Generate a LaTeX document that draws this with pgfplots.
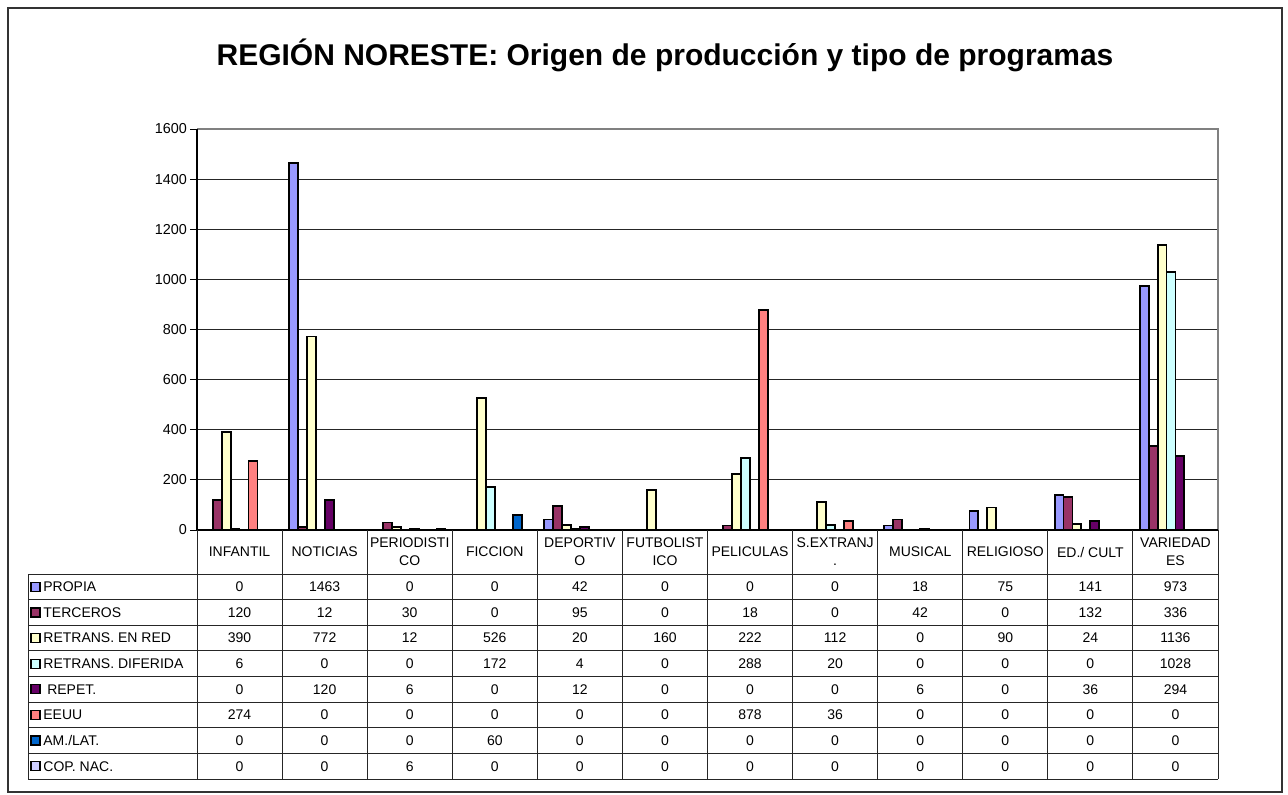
\documentclass[border=0pt]{standalone}
\usepackage{pgfplots}
\usepackage{pgfplotstable}
\pgfplotsset{compat=1.18}
\usepackage{fontspec}
\setmainfont{Liberation Sans}

\definecolor{cPropia}{HTML}{9999FF}
\definecolor{cTerceros}{HTML}{993366}
\definecolor{cRed}{HTML}{FFFFCC}
\definecolor{cDif}{HTML}{CCFFFF}
\definecolor{cRepet}{HTML}{660066}
\definecolor{cEEUU}{HTML}{FF8080}
\definecolor{cAmlat}{HTML}{0066CC}
\definecolor{cCopnac}{HTML}{CCCCFF}

% rows = program types, columns = origin of production
\pgfplotstableread{
idx PROPIA TERCEROS RED DIF REPET EEUU AMLAT COPNAC
0   0    120  390  6    0   274 0  0
1   1463 12   772  0    120 0   0  0
2   0    30   12   0    6   0   0  6
3   0    0    526  172  0   0   60 0
4   42   95   20   4    12  0   0  0
5   0    0    160  0    0   0   0  0
6   0    18   222  288  0   878 0  0
7   0    0    112  20   0   36  0  0
8   18   42   0    0    6   0   0  0
9   75   0    90   0    0   0   0  0
10  141  132  24   0    36  0   0  0
11  973  336  1136 1028 294 0   0  0
}\datatable

\begin{document}
\begin{tikzpicture}
\path[use as bounding box] (0,0) rectangle (644pt,-397pt);

\begin{axis}[
    at={(98.5pt,-265pt)}, anchor=south west,
    scale only axis,
    width=510.5pt, height=200.5pt,
    xmin=-0.5, xmax=11.5,
    ymin=0, ymax=1600,
    ybar,
    bar width=0.10526,
    xtick=\empty,
    ytick={0,200,...,1600},
    ytick pos=left,
    tick align=outside,
    major tick length=3.5pt,
    ytick style={black, line width=0.5pt},
    yticklabel style={font=\fontsize{7.2}{8}\selectfont, xshift=2pt},
    /pgf/number format/assume math mode=true,
    /pgf/number format/1000 sep={},
    ymajorgrids,
    grid style={black!85, line width=0.5pt},
    axis line style={draw=none},
    every axis plot/.append style={draw=black, line width=0.95pt},
    restrict y to domain=0.5:5000,
    clip=false,
]
\addplot[fill=cPropia,   bar shift=-0.36842] table[x=idx, y=PROPIA]   {\datatable};
\addplot[fill=cTerceros, bar shift=-0.26316] table[x=idx, y=TERCEROS] {\datatable};
\addplot[fill=cRed,      bar shift=-0.15789] table[x=idx, y=RED]      {\datatable};
\addplot[fill=cDif,      bar shift=-0.05263] table[x=idx, y=DIF]      {\datatable};
\addplot[fill=cRepet,    bar shift=0.05263]  table[x=idx, y=REPET]    {\datatable};
\addplot[fill=cEEUU,     bar shift=0.15789]  table[x=idx, y=EEUU]     {\datatable};
\addplot[fill=cAmlat,    bar shift=0.26316]  table[x=idx, y=AMLAT]    {\datatable};
\addplot[fill=cCopnac,   bar shift=0.36842]  table[x=idx, y=COPNAC]   {\datatable};

\draw[black!50, line width=1pt] (rel axis cs:0,1) -- (rel axis cs:1,1) -- (rel axis cs:1,0);
\draw[black, line width=0.6pt] (rel axis cs:0,1) -- (rel axis cs:0,0) -- (rel axis cs:1,0);
\end{axis}

% frame, title and data table (pixel units, y downwards)
\begin{scope}[x=0.5pt, y=-0.5pt, font=\fontsize{7}{9}\selectfont]
\draw[black!80, line width=0.6pt] (8,8) rectangle (1282,792);
\node[font=\bfseries\fontsize{15}{18}\selectfont] at (665,55)
    {REGIÓN NORESTE: Origen de producción y tipo de programas};

\foreach \i in {0,...,12}
    \draw[black!85, line width=0.5pt] ({197+85.083*\i},530) -- ({197+85.083*\i},779);
\foreach \j in {0,...,8}
    \draw[black!85, line width=0.5pt] (28,{574+25.625*\j}) -- (1218,{574+25.625*\j});
\draw[black!85, line width=0.5pt] (28,574) -- (28,779);

\foreach \t [count=\c from 0] in {INFANTIL, NOTICIAS, {PERIODISTI\\CO}, FICCION,
        {DEPORTIV\\O}, {FUTBOLIST\\ICO}, PELICULAS, {S.EXTRANJ\\.}, MUSICAL,
        RELIGIOSO, {ED./ CULT}, {VARIEDAD\\ES}}
    \node[align=center, inner sep=0pt] at ({197+85.083*(\c+0.5)},552) {\t};

\foreach \col/\clr/\lab [count=\r from 0] in {PROPIA/cPropia/PROPIA,
        TERCEROS/cTerceros/TERCEROS, RED/cRed/RETRANS. EN RED,
        DIF/cDif/RETRANS. DIFERIDA, REPET/cRepet/\ REPET., EEUU/cEEUU/EEUU,
        AMLAT/cAmlat/{AM./LAT.}, COPNAC/cCopnac/COP. NAC.} {
    \pgfmathsetmacro{\yc}{574+25.625*(\r+0.5)}
    \draw[fill=\clr, draw=black, line width=0.6pt] (31,\yc-4.5) rectangle (40,\yc+4.5);
    \node[anchor=west, inner sep=0pt] at (43,\yc) {\lab};
    \foreach \c in {0,...,11} {
        \edef\getit{\noexpand\pgfplotstablegetelem{\c}{\col}\noexpand\of\noexpand\datatable}
        \getit
        \node[inner sep=0pt] at ({197+85.083*(\c+0.5)},\yc) {\pgfplotsretval};
    }
}
\end{scope}
\end{tikzpicture}
\end{document}
